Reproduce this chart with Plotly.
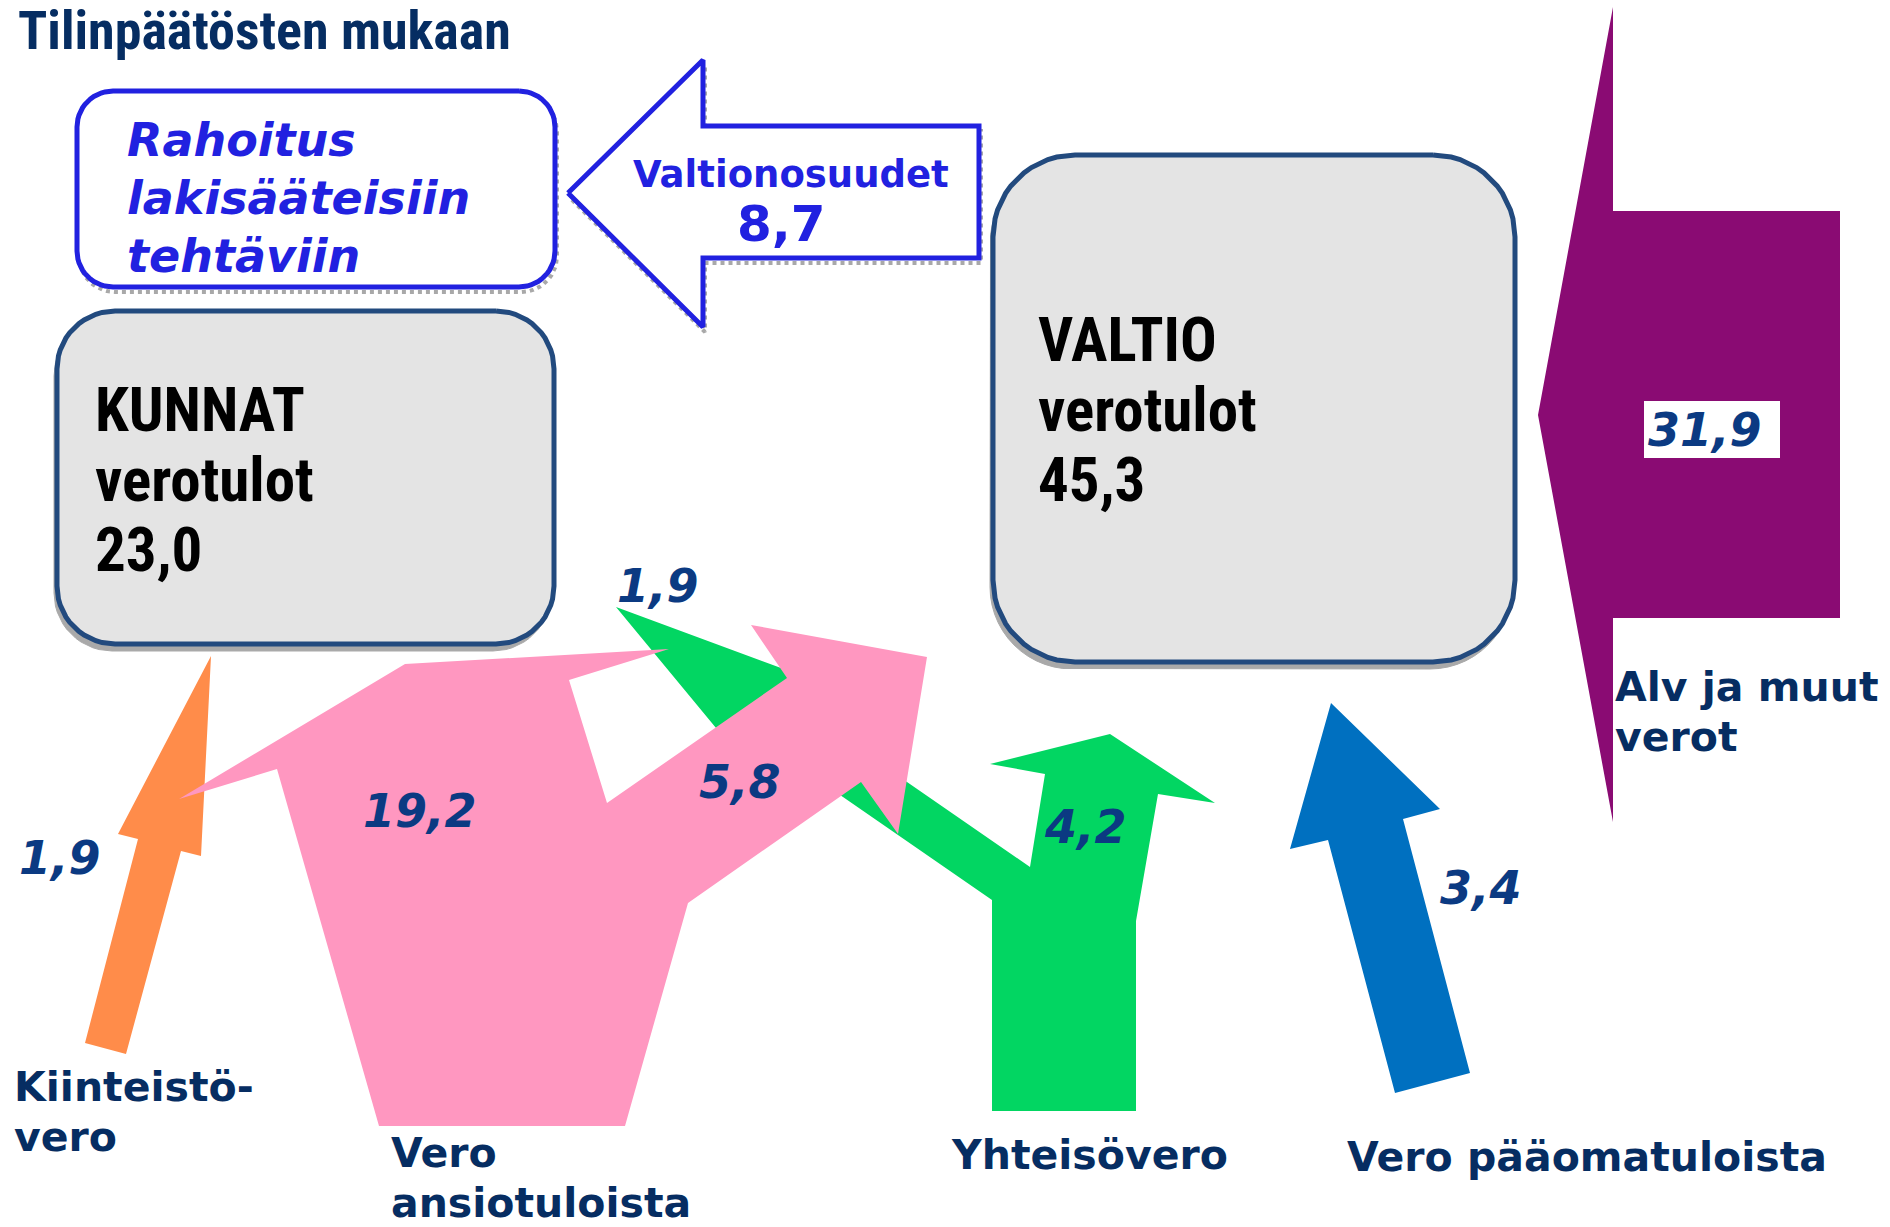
import math
import plotly.graph_objects as go

# ---------------- data ----------------
title_text = "Tilinpäätösten mukaan"
kunnat_name = ["KUNNAT", "verotulot"]
valtio_name = ["VALTIO", "verotulot"]
kunnat_total = 23.0
valtio_total = 45.3
transfer_name = "Valtionosuudet"
transfer_value = 8.7
transfer_purpose = ["Rahoitus", "lakisääteisiin", "tehtäviin"]

source_labels = [
    ["Kiinteistö-", "vero"],
    ["Vero", "ansiotuloista"],
    ["Yhteisövero"],
    ["Vero pääomatuloista"],
    ["Alv ja muut", "verot"],
]
# flows to municipalities (kiinteistövero, ansiotulovero, yhteisövero)
kunnat_flows = [1.9, 19.2, 1.9]
# flows to state (ansiotulovero, yhteisövero, pääomatulovero, alv ja muut)
valtio_flows = [5.8, 4.2, 3.4, 31.9]


def fi(v):
    return f"{v:.1f}".replace(".", ",")


# ---------------- styles ----------------
W, H = 1890, 1227
NAVY = "#062D62"
NUMC = "#0B3A82"
BLUE = "#2121E0"
BOXLINE = "#224A7E"
BOXFILL = "#E4E4E4"
SHADOW = "#A9A9A9"
ORANGE = "#FF8C4A"
PINK = "#FF97C0"
GREEN = "#02D662"
CBLUE = "#0070C0"
PURPLE = "#8A0B73"

fig = go.Figure()


def poly(pts, fill, line_color=None, line_width=0, dash=None, fillmode="toself"):
    xs = [p[0] for p in pts] + [pts[0][0]]
    ys = [p[1] for p in pts] + [pts[0][1]]
    fig.add_trace(go.Scatter(
        x=xs, y=ys, mode="lines", fill=fillmode if fill else None,
        fillcolor=fill,
        line=dict(color=line_color or "rgba(0,0,0,0)", width=line_width, dash=dash),
        hoverinfo="skip", showlegend=False))


def rrect(x0, y0, x1, y1, r, n=14):
    pts = []
    corners = [((x1 - r, y0 + r), -90), ((x1 - r, y1 - r), 0),
               ((x0 + r, y1 - r), 90), ((x0 + r, y0 + r), 180)]
    for (cx, cy), a0 in corners:
        for k in range(n + 1):
            t = math.radians(a0 + 90 * k / n)
            pts.append((cx + r * math.cos(t), cy + r * math.sin(t)))
    return pts


def shift(pts, dx, dy):
    return [(x + dx, y + dy) for x, y in pts]


# ---------------- shapes ----------------
# Rahoitus box (white, blue outline, dotted grey shadow)
rah = rrect(77, 91, 555, 287, 36)
poly(shift(rah, 2, 5), None, SHADOW, 4, "dot")
poly(rah, "white", BLUE, 5)

# Valtionosuudet arrow (left-pointing outline)
vo = [(568, 193), (703, 60), (703, 126), (979, 126), (979, 258), (703, 258), (703, 327)]
poly(shift(vo, 2, 5), None, SHADOW, 4, "dot")
poly(vo, "white", BLUE, 5)

# KUNNAT box
kun = rrect(57, 311, 554, 644, 58)
poly(shift(kun, -3, 7), SHADOW, SHADOW, 1)
poly(kun, BOXFILL, BOXLINE, 5)

# VALTIO box
val = rrect(993, 155, 1515, 662, 82)
poly(shift(val, -3, 7), SHADOW, SHADOW, 1)
poly(val, BOXFILL, BOXLINE, 5)

# purple arrow (Alv ja muut verot)
purple = [(1538, 415), (1613, 7), (1613, 211), (1840, 211), (1840, 618), (1613, 618), (1613, 822)]
poly(purple, PURPLE)

# blue arrow (pääomatulot)
blue = [(1331, 703), (1440, 809), (1403, 819), (1470, 1073), (1395, 1093), (1328, 840), (1290, 849)]
poly(blue, CBLUE)

# orange arrow (kiinteistövero)
orange = [(211, 656), (201, 856), (181, 851), (126, 1054), (85, 1043), (138, 839), (118, 834)]
poly(orange, ORANGE)

# green Y (yhteisövero)
green = [(992, 1111), (992, 900), (843, 797), (777, 752), (740, 757), (616, 607),
         (800, 675), (858, 748), (907, 782), (1030, 867), (1045, 774), (990, 764),
         (1110, 734), (1215, 803), (1158, 794), (1136, 921), (1136, 1111)]
poly(green, GREEN)

# pink (ansiotulot)
pink = [(379, 1126), (277, 769), (179, 799), (405, 664), (669, 649), (569, 680),
        (607, 803), (787, 678), (751, 625), (927, 657), (898, 834), (861, 782),
        (688, 903), (625, 1126)]
poly(pink, PINK)

# white label box behind 31,9
poly([(1644, 401), (1780, 401), (1780, 458), (1644, 458)], "white")

# ---------------- texts ----------------
ann = []


def txt(x, y, s, size, color, family, xanchor="left", bold=True, italic=False):
    t = s
    if bold:
        t = f"<b>{t}</b>"
    if italic:
        t = f"<i>{t}</i>"
    ann.append(dict(x=x, y=y, text=t, showarrow=False, xanchor=xanchor, yanchor="middle",
                    font=dict(size=size, color=color, family=family)))


CAL = "Liberation Sans Narrow, Roboto Condensed, Lato"
VER = "DejaVu Sans"

txt(16, 30, title_text, 54, NAVY, CAL)

for i, s in enumerate(transfer_purpose):
    txt(125, 140 + i * 58, s, 46, BLUE, VER, italic=True)
txt(791, 174, transfer_name, 37, BLUE, VER, xanchor="center")
txt(781, 224, fi(transfer_value), 50, BLUE, VER, xanchor="center")

for i, s in enumerate(kunnat_name + [fi(kunnat_total)]):
    txt(93, 410 + i * 70, s, 61, "black", CAL)
for i, s in enumerate(valtio_name + [fi(valtio_total)]):
    txt(1036, 340 + i * 70, s, 61, "black", CAL)

# flow values
txt(60, 858, fi(kunnat_flows[0]), 46, NUMC, VER, xanchor="center", italic=True)
txt(420, 811, fi(kunnat_flows[1]), 46, NUMC, VER, xanchor="center", italic=True)
txt(658, 586, fi(kunnat_flows[2]), 46, NUMC, VER, xanchor="center", italic=True)
txt(740, 782, fi(valtio_flows[0]), 46, NUMC, VER, xanchor="center", italic=True)
txt(1085, 827, fi(valtio_flows[1]), 46, NUMC, VER, xanchor="center", italic=True)
txt(1481, 888, fi(valtio_flows[2]), 46, NUMC, VER, xanchor="center", italic=True)
txt(1646, 430, fi(valtio_flows[3]), 46, NUMC, VER, italic=True)

# source labels
label_pos = [(12, 1087), (389, 1153), (949, 1155), (1345, 1157), (1613, 687)]
for (x, y), lines in zip(label_pos, source_labels):
    for j, s in enumerate(lines):
        txt(x, y + j * 50, s, 41, NAVY, VER)

fig.update_layout(
    width=W, height=H, autosize=False,
    margin=dict(l=0, r=0, t=0, b=0),
    paper_bgcolor="white", plot_bgcolor="white",
    xaxis=dict(range=[0, W], visible=False, fixedrange=True),
    yaxis=dict(range=[H, 0], visible=False, fixedrange=True),
    annotations=ann,
    showlegend=False,
)

fig.write_html("out.html", config={"displayModeBar": False},
               post_script="document.body.style.margin='0';document.body.style.overflow='hidden';")
